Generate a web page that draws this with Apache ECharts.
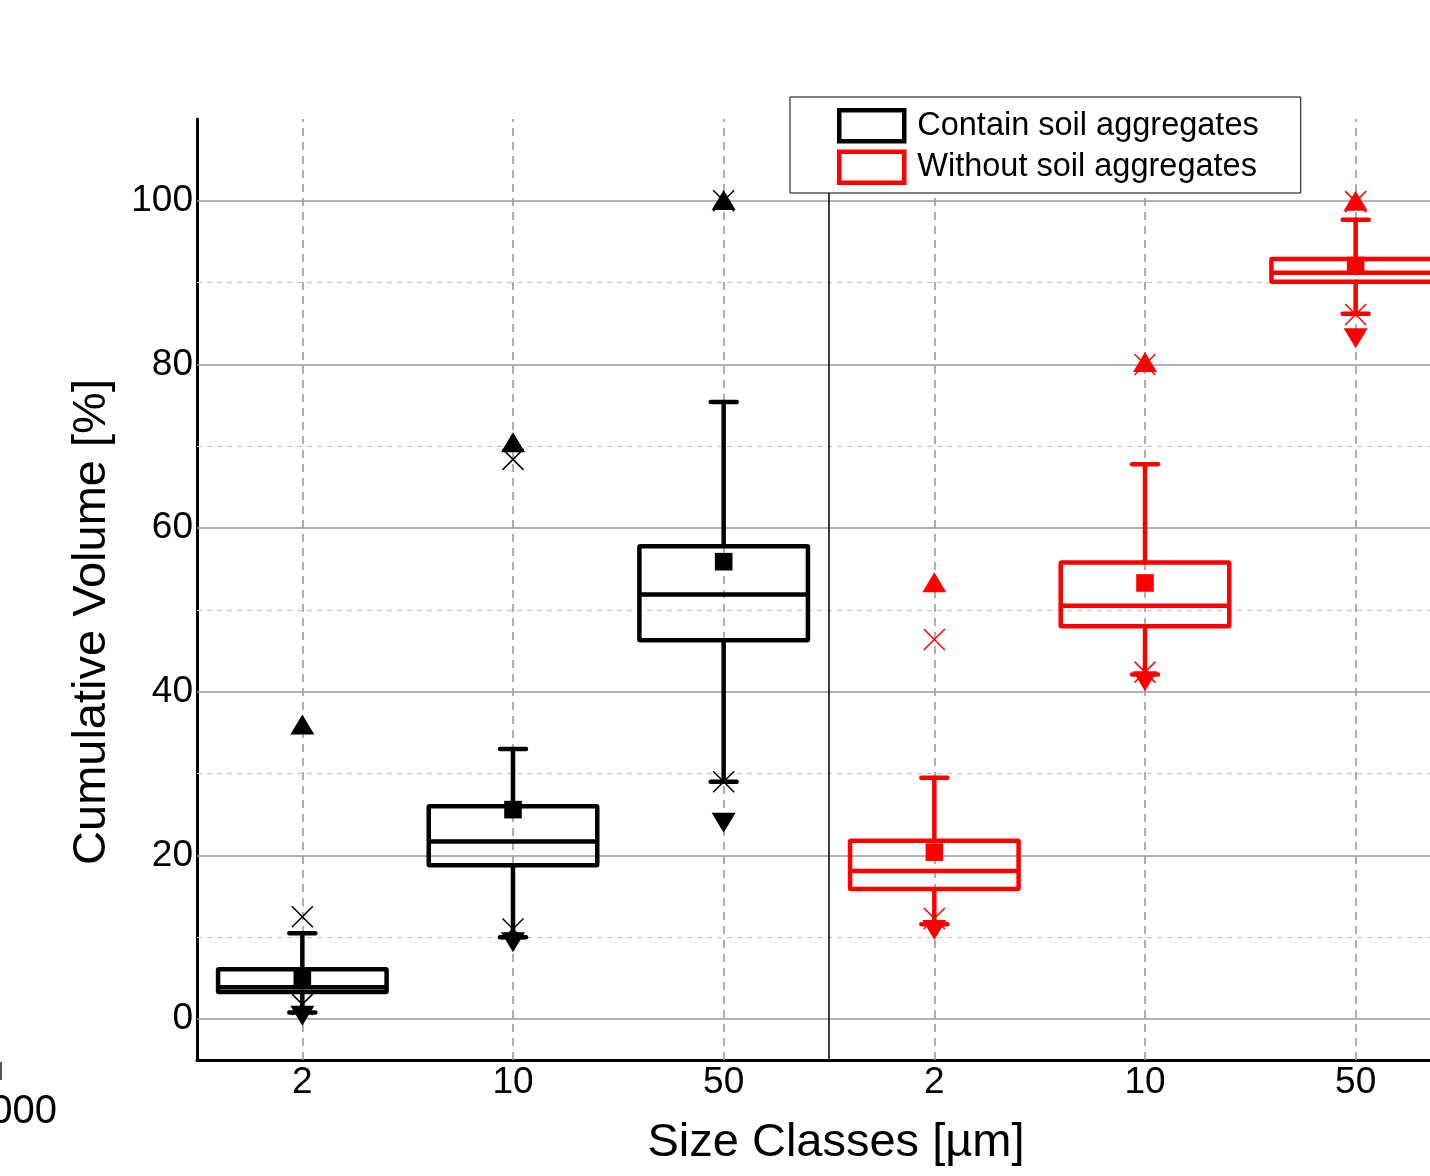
<!DOCTYPE html>
<html>
<head>
<meta charset="utf-8">
<script src="https://cdn.jsdelivr.net/npm/echarts@6/dist/echarts.min.js"></script>
<style>
html,body{margin:0;padding:0;background:#fff;}
#chart{width:1430px;height:1176px;}
</style>
</head>
<body>
<div id="chart"></div>
<script>
// ---- data ----
const categories = ['2', '10', '50', '2', '10', '50'];
const seriesNames = ['Contain soil aggregates', 'Without soil aggregates'];
const seriesColors = ['#000000', '#ff0000'];
// per box: index 0-2 black (with aggregates), 3-5 red (without)
const minVals      = [0.4,  9.4,  24.0,  10.9, 41.3, 83.2];
const whiskerLow   = [0.8,  10.0, 29.0,  11.6, 42.1, 86.2];
const p1Vals       = [1.8,  11.0, 29.0,  12.3, 42.4, 86.1];
const q1Vals       = [3.3,  18.8, 46.3,  15.9, 48.0, 90.1];
const medianVals   = [3.9,  21.7, 51.9,  18.1, 50.5, 91.2];
const q3Vals       = [6.1,  26.0, 57.8,  21.8, 55.8, 92.9];
const meanVals     = [5.2,  25.6, 55.9,  20.4, 53.3, 92.1];
const whiskerHigh  = [10.5, 33.0, 75.4,  29.5, 67.8, 97.7];
const p99Vals      = [12.5, 68.4, 100.0, 46.4, 80.0, 99.9];
const maxVals      = [36.0, 70.5, 100.1, 53.4, 80.3, 100.0];
const majorTicks = [0, 20, 40, 60, 80, 100];
const minorTicks = [10, 30, 50, 70, 90];

const FONT = "'Liberation Sans', Arial, sans-serif";

function buildData(idxList) {
  return idxList.map(i => [i + 1, minVals[i], whiskerLow[i], p1Vals[i], q1Vals[i], medianVals[i],
    q3Vals[i], meanVals[i], whiskerHigh[i], p99Vals[i], maxVals[i]]);
}

function makeRender(color) {
  return function (params, api) {
    const x = api.value(0);
    const P = v => api.coord([x, v]);
    const cx = P(0)[0];
    const halfW = api.size([0.8, 0])[0] / 2;
    const yMin = P(api.value(1))[1];
    const yWL = P(api.value(2))[1];
    const yP1 = P(api.value(3))[1];
    const yQ1 = P(api.value(4))[1];
    const yMed = P(api.value(5))[1];
    const yQ3 = P(api.value(6))[1];
    const yMean = P(api.value(7))[1];
    const yWH = P(api.value(8))[1];
    const yP99 = P(api.value(9))[1];
    const yMax = P(api.value(10))[1];
    const lw = 4.5, capH = 13, xs = 10.5, triW = 12, triH = 10, sq = 8.8;
    const thick = { stroke: color, lineWidth: lw, lineCap: 'round', fill: null };
    const thin = { stroke: color, lineWidth: 1.5, fill: null };
    const ch = [];
    ch.push({ type: 'line', shape: { x1: cx, y1: yQ3, x2: cx, y2: yWH }, style: thick });
    ch.push({ type: 'line', shape: { x1: cx, y1: yQ1, x2: cx, y2: yWL }, style: thick });
    ch.push({ type: 'line', shape: { x1: cx - capH, y1: yWH, x2: cx + capH, y2: yWH }, style: thick });
    ch.push({ type: 'line', shape: { x1: cx - capH, y1: yWL, x2: cx + capH, y2: yWL }, style: thick });
    ch.push({ type: 'rect', shape: { x: cx - halfW, y: yQ3, width: 2 * halfW, height: yQ1 - yQ3, r: 1 },
      style: { stroke: color, lineWidth: lw, fill: null, lineJoin: 'round' } });
    ch.push({ type: 'line', shape: { x1: cx - halfW, y1: yMed, x2: cx + halfW, y2: yMed }, style: { stroke: color, lineWidth: lw } });
    [yP1, yP99].forEach(yy => {
      ch.push({ type: 'line', shape: { x1: cx - xs, y1: yy - xs, x2: cx + xs, y2: yy + xs }, style: thin });
      ch.push({ type: 'line', shape: { x1: cx - xs, y1: yy + xs, x2: cx + xs, y2: yy - xs }, style: thin });
    });
    ch.push({ type: 'polygon', shape: { points: [[cx, yMax - triH], [cx - triW, yMax + triH], [cx + triW, yMax + triH]] }, style: { fill: color } });
    ch.push({ type: 'polygon', shape: { points: [[cx, yMin + triH], [cx - triW, yMin - triH], [cx + triW, yMin - triH]] }, style: { fill: color } });
    ch.push({ type: 'rect', shape: { x: cx - sq, y: yMean - sq, width: 2 * sq, height: 2 * sq }, style: { fill: color } });
    return { type: 'group', children: ch };
  };
}

const markData = [];
minorTicks.forEach(v => markData.push({ yAxis: v, lineStyle: { color: '#c8c8c8', type: [5, 5], width: 1.2 } }));
majorTicks.forEach(v => markData.push({ yAxis: v, lineStyle: { color: '#999999', type: 'solid', width: 1.6 } }));
[1, 2, 3, 4, 5, 6].forEach(v => markData.push({ xAxis: v, lineStyle: { color: '#9a9a9a', type: [8, 6], width: 1.6 } }));
markData.push({ xAxis: 3.5, lineStyle: { color: '#000', type: 'solid', width: 1.5 } });

const chart = echarts.init(document.getElementById('chart'), null, { renderer: 'canvas' });
chart.setOption({
  animation: false,
  backgroundColor: '#fff',
  textStyle: { fontFamily: FONT },
  grid: { left: 197, right: -31, top: 119, bottom: 116, containLabel: false, outerBoundsMode: 'none' },
  legend: {
    orient: 'vertical', left: 790, top: 97,
    padding: [11, 42, 8, 47],
    itemGap: 6, itemWidth: 65, itemHeight: 31,
    backgroundColor: '#fff', borderColor: '#000', borderWidth: 1, borderRadius: 0,
    selectedMode: false,
    textStyle: { fontSize: 32.5, color: '#000', fontFamily: FONT, padding: [0, 0, 0, 8] },
    data: [
      { name: seriesNames[0], icon: 'rect', itemStyle: { color: 'rgba(0,0,0,0)', borderColor: seriesColors[0], borderWidth: 4.5 } },
      { name: seriesNames[1], icon: 'rect', itemStyle: { color: 'rgba(0,0,0,0)', borderColor: seriesColors[1], borderWidth: 4.5 } }
    ],
    z: 20
  },
  xAxis: [
    {
      type: 'category', data: categories, boundaryGap: true, position: 'bottom',
      axisLine: { show: true, onZero: false, lineStyle: { color: '#000', width: 3 } },
      axisTick: { show: false },
      axisLabel: { fontSize: 37, color: '#000', margin: 4, fontFamily: FONT },
      splitLine: { show: false }
    },
    { type: 'value', min: 0.5, max: 6.5, show: false, axisLine: { onZero: false } }
  ],
  yAxis: {
    type: 'value', min: -5, max: 110, interval: 5,
    axisLine: { show: true, onZero: false, lineStyle: { color: '#000', width: 3 } },
    axisTick: { show: false },
    splitLine: { show: false },
    axisLabel: {
      fontSize: 37, color: '#000', margin: 4, fontFamily: FONT,
      formatter: v => (v % 20 === 0 && v >= 0 && v <= 100) ? String(v) : ''
    }
  },
  series: [
    {
      name: 'grid', type: 'line', xAxisIndex: 1, yAxisIndex: 0, data: [], z: 1, silent: true,
      markLine: { silent: true, symbol: ['none', 'none'], label: { show: false }, animation: false, data: markData }
    },
    {
      name: seriesNames[0], type: 'custom', xAxisIndex: 1, yAxisIndex: 0, z: 5,
      itemStyle: { color: seriesColors[0] },
      renderItem: makeRender(seriesColors[0]),
      data: buildData([0, 1, 2])
    },
    {
      name: seriesNames[1], type: 'custom', xAxisIndex: 1, yAxisIndex: 0, z: 5,
      itemStyle: { color: seriesColors[1] },
      renderItem: makeRender(seriesColors[1]),
      data: buildData([3, 4, 5])
    }
  ],
  graphic: [
    { type: 'text', x: 92, y: 622, rotation: Math.PI / 2,
      style: { text: 'Cumulative Volume [%]', font: "47px 'Liberation Sans', Arial, sans-serif", fill: '#000', align: 'center', verticalAlign: 'middle' } },
    { type: 'text', x: 836, y: 1143,
      style: { text: 'Size Classes [µm]', font: "47px 'Liberation Sans', Arial, sans-serif", fill: '#000', align: 'center', verticalAlign: 'middle' } },
    { type: 'text', x: 57, y: 1112,
      style: { text: '000', font: "40px 'Liberation Sans', Arial, sans-serif", fill: '#000', align: 'right', verticalAlign: 'middle' } },
    { type: 'line', shape: { x1: 1, y1: 1062, x2: 1, y2: 1080 }, style: { stroke: '#555', lineWidth: 2 } }
  ]
});
</script>
</body>
</html>
